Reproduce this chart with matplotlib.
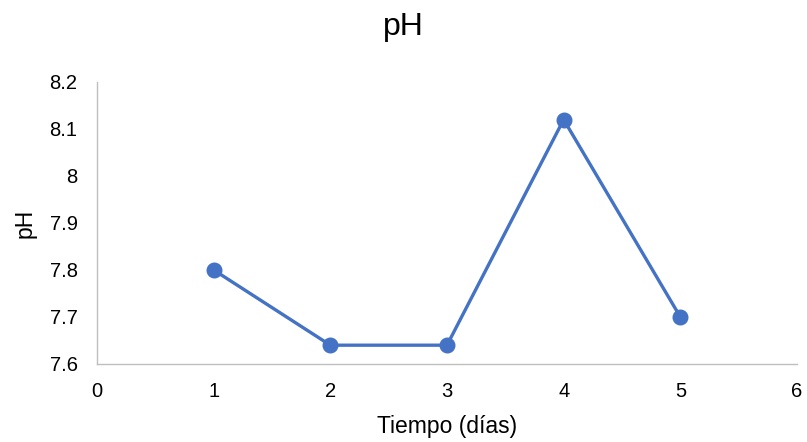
import matplotlib
matplotlib.use("Agg")
import matplotlib.pyplot as plt

dias = [1, 2, 3, 4, 5]
ph = [7.80, 7.64, 7.64, 8.12, 7.70]
xticks = [0, 1, 2, 3, 4, 5, 6]
yticks = [7.6, 7.7, 7.8, 7.9, 8.0, 8.1, 8.2]
ytick_labels = ["7.6", "7.7", "7.8", "7.9", "8", "8.1", "8.2"]

plt.rcParams['font.family'] = ['Liberation Sans', 'DejaVu Sans']

fig = plt.figure(figsize=(8.07, 4.42), dpi=100)
ax = fig.add_axes([0.1202, 0.1765, 0.8674, 0.638])
ax.plot(dias, ph, color='#4472C4', linewidth=2.4, marker='o', markersize=10.5)
ax.set_xlim(0, 6)
ax.set_ylim(7.6, 8.2)
ax.set_xticks(xticks)
ax.set_yticks(yticks)
ax.set_yticklabels(ytick_labels)
for s in ['top', 'right']:
    ax.spines[s].set_visible(False)
for s in ['left', 'bottom']:
    ax.spines[s].set_color('#BFBFBF')
    ax.spines[s].set_linewidth(1)
ax.tick_params(length=0, labelsize=14.5, colors='#000000')
ax.tick_params(axis='y', pad=14)
ax.tick_params(axis='x', pad=13)
ax.set_xlabel('Tiempo (días)', fontsize=16.5, labelpad=10)
ax.set_ylabel('pH', fontsize=16.5, labelpad=9)
fig.text(0.5, 1 - 35 / 442, 'pH', fontsize=23, ha='center', va='baseline')
fig.savefig('out.png', dpi=100)
